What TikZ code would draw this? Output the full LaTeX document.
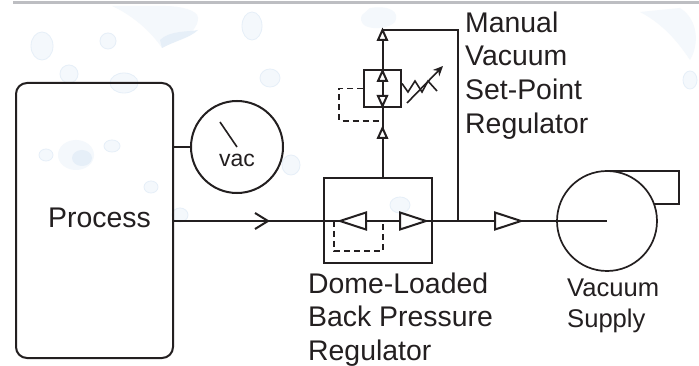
\documentclass[tikz,border=0pt]{standalone}
\usepackage{fontspec}
\setmainfont{Liberation Sans}
\usetikzlibrary{arrows.meta}
\definecolor{ink}{HTML}{231F20}
\definecolor{drop}{HTML}{E6EFF8}
\definecolor{droplight}{HTML}{F4F8FC}
\definecolor{rulegray}{HTML}{BDBEC2}
\tikzset{
  line/.style={draw=ink,line width=2pt},
  thinline/.style={draw=ink,line width=1.6pt},
  dashline/.style={draw=ink,line width=1.7pt,dash pattern=on 6pt off 4pt},
  tri/.style={draw=ink,line width=2pt,fill=white,line join=miter},
  box/.style={draw=ink,line width=2pt,inner sep=0pt,fill=none},
  lab/.style={anchor=base west,inner sep=0pt,text=ink},
  dropa/.style={fill=drop,draw=none},
  dropb/.style={fill=droplight,draw=drop,line width=.8pt},
}
\newcommand{\lsize}[1]{\fontsize{#1}{#1}\selectfont}
\begin{document}
\begin{tikzpicture}[x=1pt,y=-1pt]
\useasboundingbox (0,0) rectangle (699,366);
\fill[white] (0,0) rectangle (699,366);
% droplets of the backdrop
\fill[droplight] (112,6) .. controls (130,14) and (150,30) .. (162,48) .. controls (175,40) and (198,35) .. (198,18) .. controls (198,10) and (180,6) .. (165,6) -- cycle;
\fill[dropa] (160,40) .. controls (170,30) and (190,32) .. (198,30) .. controls (190,38) and (172,42) .. (162,48) -- cycle;
\draw[dropb] (42,46) ellipse (11 and 14);
\draw[dropb] (108,41) circle (8);
\draw[dropb] (69,74) circle (9);
\draw[dropb] (124,83) ellipse (14 and 10);
\draw[dropb] (252,26) ellipse (10 and 14);
\draw[dropb] (270,78) ellipse (10 and 9);
\fill[droplight] (76,155) ellipse (18 and 15);
\fill[dropa] (82,158) ellipse (10 and 8);
\draw[dropb] (46,155) ellipse (7 and 6);
\draw[dropb] (112,146) ellipse (8 and 6);
\draw[dropb] (151,187) ellipse (7 and 6);
\draw[dropb] (291,165) ellipse (9 and 10);
\fill[droplight] (370,8) .. controls (390,5) and (400,12) .. (395,22) .. controls (385,32) and (355,30) .. (362,15) -- cycle;
\draw[dropb] (400,205) ellipse (10 and 8);
\fill[droplight] (640,12) .. controls (665,25) and (680,45) .. (690,60) .. controls (699,45) and (699,20) .. (680,8) -- cycle;
\draw[dropb] (690,80) ellipse (7 and 9);
\draw[dropb] (180,215) ellipse (8 and 7);
% top rule
\fill[rulegray] (13,1) rectangle (699,4);
% named parts
\node[box,rounded corners=11pt,minimum width=157pt,minimum height=275pt] (process) at (94.5,220.5) {};
\node[box,circle,minimum size=92pt] (gauge) at (237,147) {};
\node[box,minimum width=108pt,minimum height=85pt] (dome) at (378,220.5) {};
\node[box,minimum width=37pt,minimum height=37pt] (manual) at (382.5,88.5) {};
\node[box,circle,minimum size=100pt,line width=1.7pt] (pump) at (607,221) {};
\coordinate (hub) at (607,221);
\coordinate (tee) at (458,221);
\coordinate (topright) at (458,30);
\coordinate (topleft) at (382.5,30);
\coordinate (domeout) at (382.5,178);
\coordinate (needlea) at (220,122);
\coordinate (needleb) at (237,147);
\coordinate (procout) at (173,221);
\coordinate (procg) at (173,147);
\coordinate (pumphoodA) at (607,171);
\coordinate (pumphoodB) at (679,171);
\coordinate (pumphoodC) at (679,204);
\coordinate (pumphoodD) at (654,204);
% connectors
\draw[line] (procout) -- (hub);
\draw[line] (domeout) -- (topleft) -- (topright) -- (tee);
\draw[line] (procg) -- (gauge.west);
\draw[thinline] (needlea) -- (needleb);
\draw[line,line join=miter] (pumphoodA) -- (pumphoodB) -- (pumphoodC) -- (pumphoodD);
\draw[line,line join=miter] (255,213) -- (268,221) -- (255,229);
% triangles on the main line
\draw[tri] (366,212.5) -- (340,221) -- (366,229.5) -- cycle;
\draw[tri] (400,212.5) -- (426,221) -- (400,229.5) -- cycle;
\draw[tri] (495,212.5) -- (521,221) -- (495,229.5) -- cycle;
% triangles on the branch
\draw[tri] (378,40) -- (382.5,30) -- (387,40) -- cycle;
\draw[tri] (378,81) -- (382.5,71) -- (387,81) -- cycle;
\draw[tri] (378,96) -- (382.5,106) -- (387,96) -- cycle;
\draw[tri] (378,138) -- (382.5,128) -- (387,138) -- cycle;
% pilot lines
\draw[dashline] (334,221) -- (334,251) -- (383,251) -- (383,221);
\draw[dashline] (manual.west) -- (339,88.5) -- (339,121) -- (382.5,121);
% spring and adjuster
\draw[thinline,line join=miter] (manual.east) ++(0,-5) -- (408,92) -- (415,81) -- (422,92) -- (428,81) -- (437,91);
\draw[draw=ink,line width=1.6pt,-{Stealth[length=10pt,width=9pt]}] (407,103) -- (443,66);
% labels
\node[lab] (tprocess) at (48,228) {\lsize{28.4}Process};
\node[lab] (tvac) at (219,167) {\lsize{23}vac};
\node[lab] (tm1) at (465,33) {\lsize{28.4}Manual};
\node[lab] (tm2) at (465,66) {\lsize{28.4}Vacuum};
\node[lab] (tm3) at (465,100) {\lsize{28.4}Set-Point};
\node[lab] (tm4) at (465,134) {\lsize{28.4}Regulator};
\node[lab] (td1) at (308,293) {\lsize{28.4}Dome-Loaded};
\node[lab] (td2) at (308,326) {\lsize{28.4}Back Pressure};
\node[lab] (td3) at (308,360) {\lsize{28.4}Regulator};
\node[lab] (tv1) at (567,296) {\lsize{25.6}Vacuum};
\node[lab] (tv2) at (567,327) {\lsize{25.6}Supply};
\end{tikzpicture}
\end{document}
